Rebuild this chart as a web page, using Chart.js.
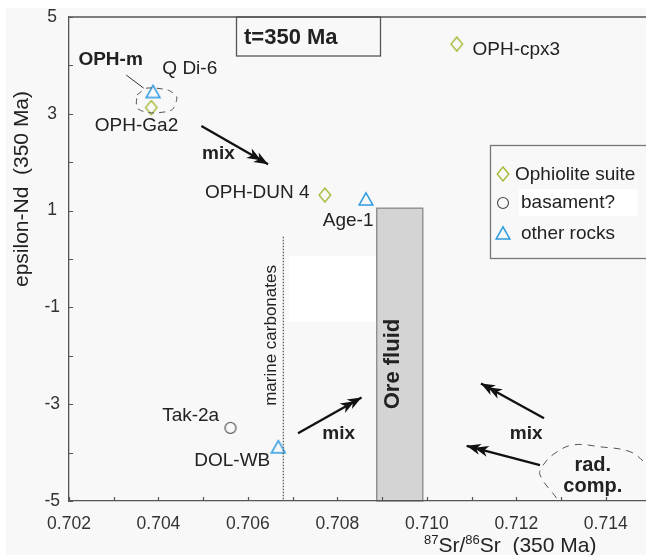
<!DOCTYPE html>
<html>
<head>
<meta charset="utf-8">
<script src="https://cdn.jsdelivr.net/npm/chart.js@4.4.0/dist/chart.umd.min.js"></script>
<style>
  html, body { margin: 0; padding: 0; background: #fff; }
  #c { display: block; }
</style>
</head>
<body>
<canvas id="c" width="646" height="555"></canvas>
<script>
// ── Data (87Sr/86Sr vs epsilon-Nd at 350 Ma) ─────────────

const ophioliteNames = ['OPH-Ga2', 'OPH-cpx3', 'OPH-DUN 4'];
const ophioliteSr = [0.70384, 0.71067, 0.70772];
const ophioliteNd = [3.13, 4.44, 1.32];

const basementNames = ['Tak-2a'];
const basementSr = [0.70561];
const basementNd = [-3.49];

const otherNames = ['Q Di-6', 'Age-1', 'DOL-WB'];
const otherSr = [0.70388, 0.70864, 0.70668];
const otherNd = [3.46, 1.24, -3.88];

// OPH-m outline and radiogenic component outline
const ophmSr = [0.70352, 0.70374, 0.70421, 0.70441, 0.70430, 0.70381, 0.70352, 0.70352];
const ophmNd = [3.39, 3.53, 3.49, 3.35, 3.08, 3.02, 3.12, 3.39];
const radSr = [0.71290, 0.71253, 0.71260, 0.71287, 0.71328, 0.71387, 0.71454, 0.71490];
const radNd = [-4.94, -4.46, -4.26, -4.01, -3.84, -3.88, -3.98, -4.22];

// marine carbonates line and ore fluid range
const marineSr = 0.70679;
const marineNd = [0.46, -5];
const oreFluidSr = [0.70888, 0.70991];
const oreFluidNd = [1.05, -5];

// mixing arrows
const arrowFromSr = [0.70496, 0.70712, 0.71262, 0.71253];
const arrowFromNd = [2.75, -3.60, -3.29, -4.26];
const arrowToSr = [0.70645, 0.70854, 0.71121, 0.71089];
const arrowToNd = [1.96, -2.86, -2.57, -3.86];

// axes
const srMin = 0.702, srMax = 0.7149, srStep = 0.001;
const ndMin = -5, ndMax = 5, ndStep = 1;

// ── Styling ─────────────────────────────

const FONT = '"Liberation Sans", Arial, sans-serif';
const colors = {
    ophiolite: '#a3b52d',
    other: '#2b9be0',
    basement: '#444',
    text: '#222',
    axis: '#555',
    plotBg: '#f8f8f8',
    ore: '#d4d4d4'
};

// text placed on the plot (data coordinates of the label centre)
const annotations = [
    { text: 'OPH-m', sr: 0.70293, nd: 4.11, bold: true },
    { text: 'Q Di-6', sr: 0.70470, nd: 3.94 },
    { text: 'OPH-Ga2', sr: 0.70351, nd: 2.75 },
    { text: 'OPH-DUN 4', sr: 0.70621, nd: 1.37 },
    { text: 'Age-1', sr: 0.70824, nd: 0.80 },
    { text: 'OPH-cpx3', sr: 0.71200, nd: 4.32 },
    { text: 'Tak-2a', sr: 0.70472, nd: -3.24 },
    { text: 'DOL-WB', sr: 0.70565, nd: -4.17 },
    { text: 'mix', sr: 0.70534, nd: 2.18, bold: true },
    { text: 'mix', sr: 0.70803, nd: -3.62, bold: true },
    { text: 'mix', sr: 0.71222, nd: -3.62, bold: true },
    { text: 'rad.', sr: 0.71371, nd: -4.26, bold: true, size: 20 },
    { text: 'comp.', sr: 0.71371, nd: -4.71, bold: true, size: 20 }
];

function makeMarker(kind) {
    const c = document.createElement('canvas');
    c.width = 16; c.height = 16;
    const g = c.getContext('2d');
    g.lineWidth = 1.3;
    if (kind === 'diamond') {
        g.strokeStyle = colors.ophiolite;
        g.beginPath();
        g.moveTo(8, 1); g.lineTo(13.8, 8); g.lineTo(8, 15); g.lineTo(2.2, 8);
        g.closePath(); g.stroke();
    } else if (kind === 'triangle') {
        g.strokeStyle = colors.other;
        g.lineWidth = 1.5;
        g.beginPath();
        g.moveTo(8, 1.8); g.lineTo(14.8, 14); g.lineTo(1.2, 14);
        g.closePath(); g.stroke();
    } else {
        g.strokeStyle = colors.basement;
        g.lineWidth = 1.1;
        g.beginPath();
        g.arc(8, 8, 5.5, 0, Math.PI * 2);
        g.stroke();
    }
    return c;
}

const markers = {
    diamond: makeMarker('diamond'),
    triangle: makeMarker('triangle'),
    circle: makeMarker('circle')
};

const zip = (xs, ys) => xs.map((x, i) => ({ x: x, y: ys[i] }));

// ── Plugins ─────────────────────────────

const backdrop = {
    id: 'backdrop',
    beforeDraw(chart) {
        const { ctx, scales: { x, y } } = chart;
        ctx.save();
        ctx.fillStyle = '#fff';
        ctx.fillRect(0, 0, chart.width, chart.height);
        ctx.fillStyle = colors.plotBg;
        ctx.fillRect(6, 8, chart.width - 6, chart.height - 8);

        // pale patch left of the ore fluid bar
        ctx.fillStyle = '#fff';
        const px0 = x.getPixelForValue(0.70692), px1 = x.getPixelForValue(oreFluidSr[0]);
        const py0 = y.getPixelForValue(0.06), py1 = y.getPixelForValue(-1.30);
        ctx.fillRect(px0, py0, px1 - px0, py1 - py0);

        // ore fluid range
        const ox0 = x.getPixelForValue(oreFluidSr[0]);
        const ox1 = x.getPixelForValue(oreFluidSr[1]);
        const oy0 = y.getPixelForValue(oreFluidNd[0]);
        const oy1 = y.getPixelForValue(oreFluidNd[1]);
        ctx.fillStyle = colors.ore;
        ctx.fillRect(ox0, oy0, ox1 - ox0, oy1 - oy0);
        ctx.strokeStyle = '#888';
        ctx.lineWidth = 1.3;
        ctx.strokeRect(ox0, oy0, ox1 - ox0, oy1 - oy0);

        ctx.translate((ox0 + ox1) / 2 - 7, y.getPixelForValue(-2.17));
        ctx.rotate(-Math.PI / 2);
        ctx.fillStyle = colors.text;
        ctx.font = 'bold 22px ' + FONT;
        ctx.textAlign = 'center';
        ctx.textBaseline = 'middle';
        ctx.fillText('Ore fluid', 0, 0);
        ctx.restore();
    }
};

function arrowHead(ctx, x0, y0, x1, y1) {
    const ang = Math.atan2(y1 - y0, x1 - x0);
    ctx.save();
    ctx.translate(x1, y1);
    ctx.rotate(ang);
    ctx.fillStyle = '#111';
    [0, -8].forEach(off => {
        ctx.beginPath();
        ctx.moveTo(off, 0);
        ctx.lineTo(off - 14, -5.5);
        ctx.lineTo(off - 10, 0);
        ctx.lineTo(off - 14, 5.5);
        ctx.closePath();
        ctx.fill();
    });
    ctx.restore();
}

const overlay = {
    id: 'overlay',
    afterDraw(chart) {
        const { ctx, chartArea: area, scales: { x, y } } = chart;
        ctx.save();

        // top frame line
        ctx.strokeStyle = colors.axis;
        ctx.lineWidth = 1.3;
        ctx.beginPath();
        ctx.moveTo(area.left, area.top);
        ctx.lineTo(area.right, area.top);
        ctx.stroke();

        // inward tick marks
        ctx.lineWidth = 1.2;
        ctx.beginPath();
        x.ticks.forEach(t => {
            const px = Math.round(x.getPixelForValue(t.value)) + 0.5;
            ctx.moveTo(px, area.bottom);
            ctx.lineTo(px, area.bottom - 4);
        });
        y.ticks.forEach(t => {
            const py = Math.round(y.getPixelForValue(t.value)) + 0.5;
            ctx.moveTo(area.left, py);
            ctx.lineTo(area.left + 4, py);
        });
        ctx.stroke();

        // mixing arrow heads
        arrowToSr.forEach((sr, i) => {
            arrowHead(ctx,
                x.getPixelForValue(arrowFromSr[i]), y.getPixelForValue(arrowFromNd[i]),
                x.getPixelForValue(sr), y.getPixelForValue(arrowToNd[i]));
        });

        // OPH-m leader line
        ctx.strokeStyle = '#333';
        ctx.lineWidth = 1;
        ctx.beginPath();
        ctx.moveTo(x.getPixelForValue(0.70328), y.getPixelForValue(3.80));
        ctx.lineTo(x.getPixelForValue(0.70367), y.getPixelForValue(3.53));
        ctx.stroke();

        // text annotations
        ctx.fillStyle = colors.text;
        ctx.textAlign = 'center';
        ctx.textBaseline = 'middle';
        annotations.forEach(a => {
            ctx.font = (a.bold ? 'bold ' : '') + (a.size || 19) + 'px ' + FONT;
            ctx.fillText(a.text, x.getPixelForValue(a.sr), y.getPixelForValue(a.nd));
        });

        // marine carbonates
        ctx.save();
        ctx.translate(x.getPixelForValue(marineSr) - 12, y.getPixelForValue(-1.58));
        ctx.rotate(-Math.PI / 2);
        ctx.font = '17px ' + FONT;
        ctx.fillText('marine carbonates', 0, 0);
        ctx.restore();

        // title box
        ctx.strokeStyle = colors.axis;
        ctx.lineWidth = 1.3;
        ctx.strokeRect(236.5, area.top, 144, 39);
        ctx.font = 'bold 22px ' + FONT;
        ctx.textAlign = 'left';
        ctx.fillText('t=350 Ma', 244, area.top + 21);

        // legend
        ctx.strokeStyle = '#777';
        ctx.strokeRect(490.5, 145.5, 200, 113);
        ctx.fillStyle = '#fff';
        ctx.fillRect(519, 189, 118, 27);
        ctx.drawImage(markers.diamond, 495, 166);
        ctx.drawImage(markers.circle, 495, 195);
        ctx.drawImage(markers.triangle, 495, 225);
        ctx.fillStyle = colors.text;
        ctx.font = '19px ' + FONT;
        ctx.fillText('Ophiolite suite', 515, 175);
        ctx.fillText('basament?', 521, 203);
        ctx.fillText('other rocks', 521, 234);

        // axis titles
        ctx.save();
        ctx.translate(22, 189);
        ctx.rotate(-Math.PI / 2);
        ctx.textAlign = 'center';
        ctx.font = '21px ' + FONT;
        ctx.fillText('epsilon-Nd  (350 Ma)', 0, 0);
        ctx.restore();

        ctx.textAlign = 'left';
        ctx.textBaseline = 'alphabetic';
        let cx = 424;
        const parts = [['87', true], ['Sr/', false], ['86', true], ['Sr  (350 Ma)', false]];
        parts.forEach(([s, sup]) => {
            ctx.font = (sup ? '13px ' : '21px ') + FONT;
            ctx.fillText(s, cx, sup ? 544 : 552);
            cx += ctx.measureText(s).width;
        });
        ctx.restore();
    }
};

// ── Chart ───────────────────────────────

const lineStyle = { showLine: true, pointRadius: 0, fill: false };

const datasets = [
    {
        label: 'OPH-m', data: zip(ophmSr, ophmNd), ...lineStyle,
        borderColor: '#555', borderWidth: 1, borderDash: [6, 5], tension: 0.25
    },
    {
        label: 'rad. comp.', data: zip(radSr, radNd), ...lineStyle,
        borderColor: '#555', borderWidth: 1, borderDash: [7, 6], tension: 0.4
    },
    {
        label: 'marine carbonates', data: marineNd.map(v => ({ x: marineSr, y: v })), ...lineStyle,
        borderColor: '#333', borderWidth: 1, borderDash: [1.5, 1.5]
    }
];

arrowFromSr.forEach((sr, i) => {
    datasets.push({
        label: 'mix ' + (i + 1),
        data: [{ x: sr, y: arrowFromNd[i] }, { x: arrowToSr[i], y: arrowToNd[i] }],
        ...lineStyle, borderColor: '#111', borderWidth: 2.3
    });
});

datasets.push(
    {
        label: 'Ophiolite suite', data: zip(ophioliteSr, ophioliteNd),
        pointStyle: markers.diamond, pointRadius: 8
    },
    {
        label: 'basament?', data: zip(basementSr, basementNd),
        pointStyle: markers.circle, pointRadius: 8
    },
    {
        label: 'other rocks', data: zip(otherSr, otherNd),
        pointStyle: markers.triangle, pointRadius: 8
    }
);

const tickFont = { family: FONT, size: 17.5 };

new Chart(document.getElementById('c'), {
    type: 'scatter',
    data: { datasets: datasets },
    options: {
        responsive: false,
        animation: false,
        events: [],
        layout: { autoPadding: false, padding: { top: 17, right: 0, bottom: 0, left: 0 } },
        scales: {
            x: {
                type: 'linear', min: srMin, max: srMax,
                afterFit: s => { s.height = 54; s.paddingRight = 0; s.paddingLeft = 0; },
                grid: { display: false, drawTicks: false },
                border: { display: true, color: colors.axis, width: 1.3 },
                ticks: {
                    stepSize: srStep, includeBounds: false, autoSkip: false,
                    maxRotation: 0, padding: 13, color: '#333', font: tickFont,
                    callback: v => {
                        const k = Math.round(v * 1000);
                        return k % 2 === 0 ? (k / 1000).toFixed(3) : '';
                    }
                }
            },
            y: {
                type: 'linear', min: ndMin, max: ndMax,
                afterFit: s => { s.width = 69; s.paddingTop = 0; s.paddingBottom = 0; },
                grid: { display: false, drawTicks: false },
                border: { display: true, color: colors.axis, width: 1.3 },
                ticks: {
                    stepSize: ndStep, autoSkip: false, padding: 9,
                    crossAlign: 'center', color: '#333', font: tickFont,
                    callback: v => (Math.abs(Math.round(v)) % 2 === 1 ? String(Math.round(v)) : '')
                }
            }
        },
        plugins: {
            legend: { display: false },
            tooltip: { enabled: false }
        }
    },
    plugins: [backdrop, overlay]
});
</script>
</body>
</html>
